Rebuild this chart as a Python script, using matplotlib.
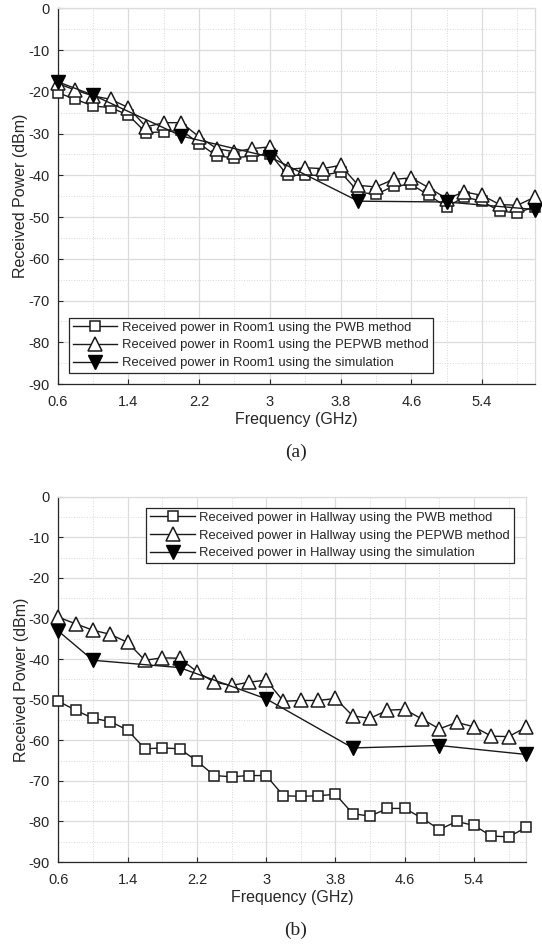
import numpy as np
import matplotlib
matplotlib.use("Agg")
import matplotlib.pyplot as plt
from matplotlib.ticker import MultipleLocator, FixedLocator

freq = [0.6, 0.8, 1.0, 1.2, 1.4, 1.6, 1.8, 2.0, 2.2, 2.4, 2.6, 2.8, 3.0, 3.2,
        3.4, 3.6, 3.8, 4.0, 4.2, 4.4, 4.6, 4.8, 5.0, 5.2, 5.4, 5.6, 5.8, 6.0]
sim_freq = [0.6, 1.0, 2.0, 3.0, 4.0, 5.0, 6.0]

# (a) Room1
room_pwb = [-20.2, -21.8, -23.4, -23.8, -25.6, -29.8, -29.6, -29.2, -32.4, -35.4,
            -35.8, -35.4, -34.8, -40.0, -40.0, -40.0, -39.2, -44.0, -44.6, -42.6,
            -42.2, -44.8, -47.6, -45.2, -46.2, -48.6, -49.0, -47.5]
room_pepwb = [-18.0, -19.6, -21.0, -21.8, -23.8, -28.4, -27.4, -27.4, -30.8, -33.6,
              -34.4, -33.6, -33.2, -38.6, -38.2, -38.4, -37.6, -42.4, -42.8, -41.0,
              -40.6, -43.0, -45.6, -44.0, -44.8, -47.0, -47.2, -45.2]
room_sim = [-17.6, -20.8, -30.6, -35.6, -46.2, -46.4, -48.2]

# (b) Hallway
hall_pwb = [-50.4, -52.6, -54.6, -55.4, -57.5, -62.1, -61.9, -62.1, -65.1, -68.7,
            -69.0, -68.7, -68.7, -73.7, -73.8, -73.7, -73.3, -78.1, -78.7, -76.8,
            -76.8, -79.2, -82.0, -80.0, -81.0, -83.6, -83.8, -81.5]
hall_pepwb = [-29.7, -31.3, -32.9, -33.9, -35.9, -40.3, -39.7, -39.8, -43.1, -45.7,
              -46.5, -45.7, -45.2, -50.4, -50.2, -50.2, -49.7, -54.0, -54.6, -52.6,
              -52.4, -54.8, -57.2, -55.6, -56.7, -59.0, -59.1, -56.8]
hall_sim = [-33.1, -40.3, -42.1, -49.8, -61.9, -61.3, -63.5]

xticks = [0.6, 1.4, 2.2, 3.0, 3.8, 4.6, 5.4]
xticklabels = ["0.6", "1.4", "2.2", "3", "3.8", "4.6", "5.4"]
xminor = [1.0, 1.8, 2.6, 3.4, 4.2, 5.0, 5.8]

plt.rcParams['font.family'] = ['Liberation Sans', 'DejaVu Sans']
plt.rcParams['axes.unicode_minus'] = False
W, H = 542, 950
fig = plt.figure(figsize=(W / 100, H / 100), dpi=100)

line_c = '#1a1a1a'
txt_c = '#262626'


def make_axes(rect):
    ax = fig.add_axes(rect)
    ax.set_xlim(0.6, 6.0)
    ax.set_ylim(-90, 0)
    ax.xaxis.set_major_locator(FixedLocator(xticks))
    ax.set_xticklabels(xticklabels)
    ax.xaxis.set_minor_locator(FixedLocator(xminor))
    ax.yaxis.set_major_locator(MultipleLocator(10))
    ax.yaxis.set_minor_locator(MultipleLocator(5))
    ax.grid(which='major', color='#dcdcdc', lw=0.9, ls='-')
    ax.grid(which='minor', color='#d8d8d8', lw=0.7, ls=':')
    ax.set_axisbelow(True)
    ax.tick_params(which='both', direction='in', labelsize=10.5, colors=txt_c,
                   length=3.5, width=0.8)
    ax.tick_params(which='minor', length=0)
    ax.tick_params(axis='x', pad=8)
    ax.tick_params(axis='y', pad=6)
    for s in ['top', 'right']:
        ax.spines[s].set_color('#dcdcdc')
        ax.spines[s].set_linewidth(0.9)
    for s in ['left', 'bottom']:
        ax.spines[s].set_color('#262626')
        ax.spines[s].set_linewidth(0.9)
    ax.set_xlabel("Frequency (GHz)", fontsize=11.5, color=txt_c, labelpad=2)
    ax.set_ylabel("Received Power (dBm)", fontsize=11.5, color=txt_c, labelpad=0)
    return ax


def draw(ax, pwb, pepwb, sim, place, labels, loc_anchor):
    ax.plot(freq, pwb, color=line_c, lw=1.0, marker='s', ms=7.5, mfc='white',
            mec=line_c, mew=1.1, label=labels[0], clip_on=False, zorder=3)
    ax.plot(freq, pepwb, color=line_c, lw=1.0, marker='^', ms=10, mfc='white',
            mec=line_c, mew=1.1, label=labels[1], clip_on=False, zorder=3)
    ax.plot(sim_freq, sim, color=line_c, lw=1.0, marker='v', ms=10, mfc='black',
            mec='black', label=labels[2], clip_on=False, zorder=4)
    leg = ax.legend(loc=place, bbox_to_anchor=loc_anchor, fontsize=9.4,
                    frameon=True, fancybox=False, edgecolor='#262626',
                    framealpha=1, borderpad=0.3, labelspacing=0.42,
                    handlelength=3.4, handletextpad=0.35, borderaxespad=0)
    leg.get_frame().set_linewidth(0.9)
    leg.set_zorder(5)
    for t in leg.get_texts():
        t.set_color(txt_c)


# axes rectangles in pixel coords
axa = make_axes([57.7 / W, 1 - 384 / H, (535 - 57.7) / W, (384 - 8.3) / H])
draw(axa, room_pwb, room_pepwb, room_sim, 'lower left',
     ["Received power in Room1 using the PWB method",
      "Received power in Room1 using the PEPWB method",
      "Received power in Room1 using the simulation"],
     ((69 - 57.7) / (535 - 57.7), (384 - 373) / (384 - 8.3)))

axb = make_axes([58.3 / W, 1 - 862 / H, (526 - 58.3) / W, (862 - 496.7) / H])
draw(axb, hall_pwb, hall_pepwb, hall_sim, 'upper right',
     ["Received power in Hallway using the PWB method",
      "Received power in Hallway using the PEPWB method",
      "Received power in Hallway using the simulation"],
     ((514 - 58.3) / (526 - 58.3), 1 - (508 - 496.7) / (862 - 496.7)))

fig.text(296 / W, 1 - 452 / H, "(a)", ha='center', va='center', fontsize=14,
         family=['Liberation Serif', 'DejaVu Serif'], color='#222222')
fig.text(296 / W, 1 - 930 / H, "(b)", ha='center', va='center', fontsize=14,
         family=['Liberation Serif', 'DejaVu Serif'], color='#222222')

fig.savefig("out.png", dpi=100)
